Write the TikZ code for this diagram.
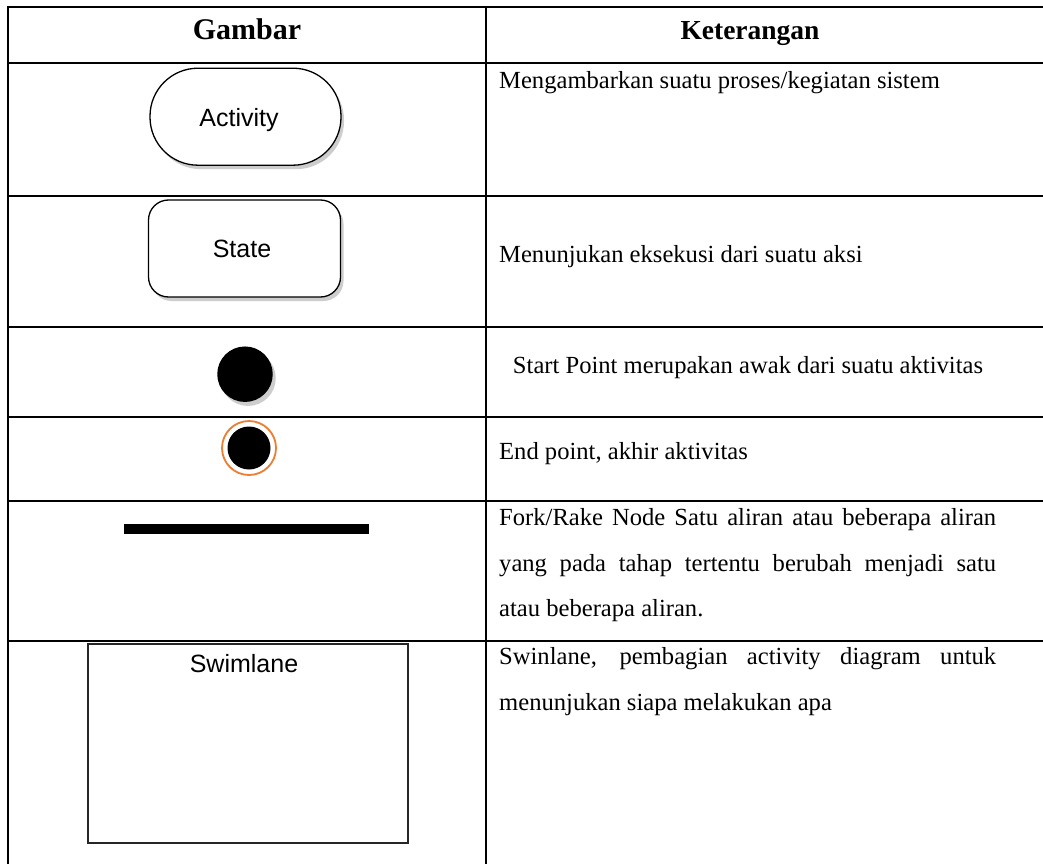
\documentclass[tikz,border=0pt]{standalone}
\usepackage{fontspec}
\setmainfont{Liberation Serif}
\newfontfamily\arialf{Liberation Sans}
\usetikzlibrary{shadows}
\definecolor{ringorange}{HTML}{ED7D31}
\tikzset{
  grid/.style={line width=2pt, black},
  body/.style={font=\fontsize{24.6}{29}\selectfont, inner sep=0pt},
  head/.style={font=\fontsize{27.5}{32}\selectfont\bfseries, inner sep=0pt},
  sans/.style={font=\arialf\fontsize{25}{30}\selectfont, inner sep=0pt},
  shad/.style={drop shadow={opacity=0.28, shadow xshift=3pt, shadow yshift=-4pt, fill=black!70}},
  umlshape/.style={draw=black, line width=1.3pt, fill=white, shad},
}
\begin{document}
\begin{tikzpicture}[x=1pt,y=-1pt]
\useasboundingbox (0,0) rectangle (1043,864);
\fill[white] (0,0) rectangle (1043,864);
% table grid
\draw[grid] (8,7) -- (1043,7);
\foreach \yy in {63,196,327,417,501,641} \draw[grid] (8,\yy) -- (1043,\yy);
\draw[grid] (8,6) -- (8,864);
\draw[grid] (486,6) -- (486,864);
% headers
\node[head, font=\fontsize{30}{36}\selectfont\bfseries, anchor=base] (hg) at (247,39.5) {Gambar};
\node[head, anchor=base] (hk) at (750,39.5) {Keterangan};
% activity
\node[umlshape, rounded corners=48pt, minimum width=191pt, minimum height=97pt] (act) at (245.5,116.7) {};
\node[sans, anchor=base] (actt) at (239,126.5) {Activity};
% state
\node[umlshape, rounded corners=20pt, minimum width=192pt, minimum height=97pt] (st) at (244.5,248.5) {};
\node[sans, anchor=base] (stt) at (242,257) {State};
% start point
\node[circle, fill=black, minimum size=55.5pt, inner sep=0pt, shad] (sp) at (245,374.2) {};
% end point
\node[circle, draw=ringorange, line width=1.8pt, fill=white, minimum size=54pt, inner sep=0pt] (ep) at (249,448) {};
\node[circle, fill=black, minimum size=43pt, inner sep=0pt] (epi) at (249,448) {};
% fork bar
\fill[black] (124,524) rectangle (369,534);
\coordinate (fork) at (246.5,529);
% swimlane
\node[draw=black!85, line width=1.5pt, minimum width=320pt, minimum height=199pt, inner sep=0pt] (sw) at (248,743.5) {};
\node[sans, anchor=base] (swt) at (244,672.5) {Swimlane};
% descriptions
\node[body, anchor=base west] (d1) at (499,89) {Mengambarkan suatu proses/kegiatan sistem};
\node[body, anchor=base west] (d2) at (499,262) {Menunjukan eksekusi dari suatu aksi};
\node[body, anchor=base] (d3) at (748,373) {Start Point merupakan awak dari suatu aktivitas};
\node[body, anchor=base west] (d4) at (499,459) {End point, akhir aktivitas};
\node[body, anchor=base west] (d5a) at (499,525.5) {\makebox[497pt][s]{Fork/Rake Node Satu aliran atau beberapa aliran}};
\node[body, anchor=base west] (d5b) at (499,571.5) {\makebox[497pt][s]{yang pada tahap tertentu berubah menjadi satu}};
\node[body, anchor=base west] (d5c) at (499,616.5) {atau beberapa aliran.};
\node[body, anchor=base west] (d6a) at (499,664) {\makebox[497pt][s]{Swinlane, pembagian activity diagram untuk}};
\node[body, anchor=base west] (d6b) at (499,710.5) {menunjukan siapa melakukan apa};
\end{tikzpicture}
\end{document}
